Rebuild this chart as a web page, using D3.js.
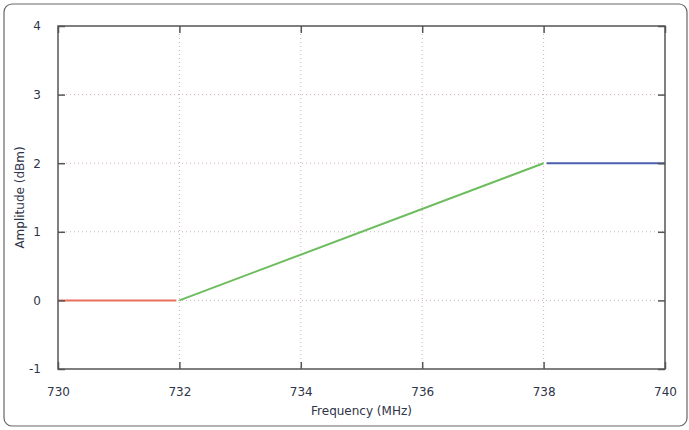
<!DOCTYPE html>
<html>
<head>
<meta charset="utf-8">
<script src="https://cdn.jsdelivr.net/npm/d3@7"></script>
<style>
  body { margin: 0; background: #fff; }
  text { font-family: "DejaVu Sans", sans-serif; }
</style>
</head>
<body>
<div id="chart"></div>
<script>
// Data
const xTicks = [730, 732, 734, 736, 738, 740];
const yTicks = [-1, 0, 1, 2, 3, 4];
const lowBand = [[730, 0], [731.95, 0]];
const ramp = [[732, 0], [738, 2]];
const highBand = [[738.05, 2], [740, 2]];

const W = 689, H = 430;
const margin = { top: 26, right: 24, bottom: 61, left: 58 };
const width = W - margin.left - margin.right;
const height = H - margin.top - margin.bottom;

const svg = d3.select('#chart').append('svg')
  .attr('width', W)
  .attr('height', H);

// Outer frame
svg.append('rect')
  .attr('x', 4).attr('y', 4)
  .attr('width', W - 6).attr('height', H - 8)
  .attr('rx', 8)
  .attr('fill', 'none')
  .attr('stroke', '#666')
  .attr('stroke-width', 1.2);

const g = svg.append('g')
  .attr('transform', `translate(${margin.left},${margin.top})`);

const x = d3.scaleLinear().domain([730, 740]).range([0, width]);
const y = d3.scaleLinear().domain([-1, 4]).range([height, 0]);

// Grid
g.selectAll('.vgrid')
  .data(xTicks.slice(1, -1))
  .join('line')
  .attr('x1', d => x(d)).attr('x2', d => x(d))
  .attr('y1', 0).attr('y2', height)
  .attr('stroke', '#c8b4b8')
  .attr('stroke-width', 1)
  .attr('stroke-dasharray', '1,3');

g.selectAll('.hgrid')
  .data(yTicks.slice(1, -1))
  .join('line')
  .attr('x1', 0).attr('x2', width)
  .attr('y1', d => y(d)).attr('y2', d => y(d))
  .attr('stroke', '#c8b4b8')
  .attr('stroke-width', 1)
  .attr('stroke-dasharray', '1,3');

// Series
const line = d3.line().x(d => x(d[0])).y(d => y(d[1]));
[[lowBand, '#e8705e'], [ramp, '#6dbd5e'], [highBand, '#4a5fb0']].forEach(([data, color]) => {
  g.append('path')
    .datum(data)
    .attr('fill', 'none')
    .attr('stroke', color)
    .attr('stroke-width', 2)
    .attr('d', line);
});

// Axes (inward ticks, mirrored)
const tickLen = 7;
const axisColor = '#555';
const fmt = d => String(d);
g.append('g')
  .attr('transform', `translate(0,${height})`)
  .call(d3.axisBottom(x).tickValues(xTicks).tickSize(-tickLen).tickPadding(tickLen + 11).tickFormat(fmt))
  .call(a => a.select('.domain').remove());
g.append('g')
  .call(d3.axisTop(x).tickValues(xTicks).tickSize(-tickLen).tickFormat(''))
  .call(a => a.select('.domain').remove());
g.append('g')
  .call(d3.axisLeft(y).tickValues(yTicks).tickSize(-tickLen).tickPadding(tickLen + 10).tickFormat(fmt))
  .call(a => a.select('.domain').remove());
g.append('g')
  .attr('transform', `translate(${width},0)`)
  .call(d3.axisRight(y).tickValues(yTicks).tickSize(-tickLen).tickFormat(''))
  .call(a => a.select('.domain').remove());

g.selectAll('.tick line').attr('stroke', axisColor).attr('stroke-width', 1.5);
g.selectAll('.tick text')
  .style('font-size', '12px')
  .attr('fill', '#2f3548');

// Plot border
g.append('rect')
  .attr('width', width).attr('height', height)
  .attr('fill', 'none')
  .attr('stroke', axisColor)
  .attr('stroke-width', 1.5);

// Axis labels
svg.append('text')
  .attr('x', margin.left + width / 2)
  .attr('y', 415)
  .attr('text-anchor', 'middle')
  .style('font-size', '12px')
  .attr('fill', '#2f3548')
  .text('Frequency (MHz)');

svg.append('text')
  .attr('transform', `translate(24,${margin.top + height / 2}) rotate(-90)`)
  .attr('text-anchor', 'middle')
  .style('font-size', '12px')
  .attr('fill', '#2f3548')
  .text('Amplitude (dBm)');
</script>
</body>
</html>
